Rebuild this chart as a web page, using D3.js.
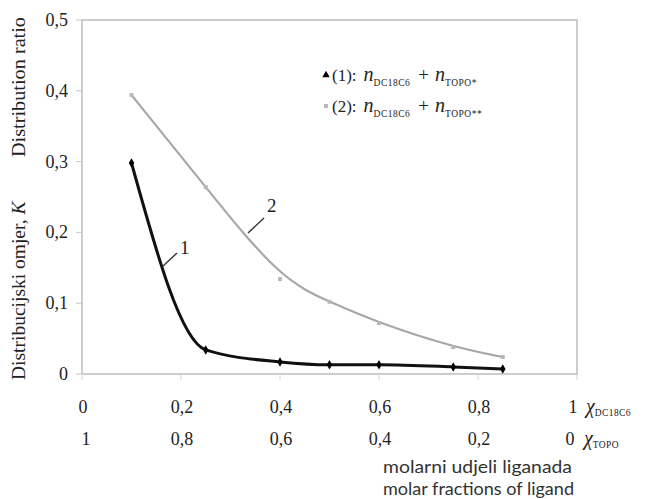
<!DOCTYPE html>
<html>
<head>
<meta charset="utf-8">
<script src="https://cdn.jsdelivr.net/npm/d3@7"></script>
<style>
  body { margin: 0; background: #fff; }
  svg text { font-family: "Liberation Serif", "DejaVu Serif", serif; fill: #222; }
</style>
</head>
<body>
<div id="chart"></div>
<script>
// data
var xDC = [0.1, 0.25, 0.4, 0.5, 0.6, 0.75, 0.85];        // molar fraction of DC18C6
var k1 = [0.298, 0.034, 0.017, 0.013, 0.013, 0.010, 0.007]; // series (1)
var k2 = [0.394, 0.264, 0.134, 0.102, 0.072, 0.038, 0.024]; // series (2)
var yTicks = [0, 0.1, 0.2, 0.3, 0.4, 0.5];
var xTicks = [0, 0.2, 0.4, 0.6, 0.8, 1];

var width = 645, height = 499;
var plotL = 82, plotR = 577, plotT = 20, plotB = 374;
var FS = 18; // tick label size

var svg = d3.select("#chart").append("svg")
  .attr("width", width)
  .attr("height", height);

var x = d3.scaleLinear().domain([0, 1]).range([plotL, plotR]);
var xTopo = d3.scaleLinear().domain([1, 0]).range([plotL, plotR]); // second row, reversed
var y = d3.scaleLinear().domain([0, 0.5]).range([plotB, plotT]);

var comma = d => d === 0 ? "0" : (d === 1 ? "1" : d3.format(".1f")(d).replace(".", ","));

// plot frame
svg.append("rect")
  .attr("x", plotL).attr("y", plotT)
  .attr("width", plotR - plotL).attr("height", plotB - plotT)
  .attr("fill", "none")
  .attr("stroke", "#bdbdbd")
  .attr("stroke-width", 1.5);

// y axis ticks + labels
svg.selectAll(".ytick").data(yTicks).enter().append("line")
  .attr("x1", plotL - 6).attr("x2", plotL)
  .attr("y1", d => y(d)).attr("y2", d => y(d))
  .attr("stroke", "#c8c8c8");

svg.selectAll(".ylab").data(yTicks).enter().append("text")
  .attr("x", 68)
  .attr("y", d => y(d) + 6)
  .attr("text-anchor", "end")
  .style("font-size", FS + "px")
  .text(comma);

// x axis ticks
svg.selectAll(".xtick").data(xTicks).enter().append("line")
  .attr("x1", d => x(d)).attr("x2", d => x(d))
  .attr("y1", plotB).attr("y2", plotB + 6)
  .attr("stroke", "#d4d4d4");

// first row: DC18C6
svg.selectAll(".xlab").data(xTicks).enter().append("text")
  .attr("x", d => x(d) + (d === 1 ? -4 : 1))
  .attr("y", 413)
  .attr("text-anchor", "middle")
  .style("font-size", FS + "px")
  .text(comma);

// second row: TOPO
svg.selectAll(".xlab2").data(xTicks).enter().append("text")
  .attr("x", d => xTopo(1 - d) + (d === 1 ? -7 : 1) + (d === 0 ? 3 : 0))
  .attr("y", 445)
  .attr("text-anchor", "middle")
  .style("font-size", FS + "px")
  .text(d => comma(1 - d));

function chi(xp, yp, sub) {
  var t = svg.append("text").attr("x", xp).attr("y", yp).style("font-size", "20px");
  t.append("tspan").style("font-style", "italic").text("χ");
  t.append("tspan").attr("dy", 3).style("font-size", "9.5px").style("letter-spacing", "0.4px").text(sub);
}
chi(586, 413, "DC18C6");
chi(584, 445, "TOPO");

// axis titles (y title in two parts)
var yt = svg.append("text")
  .attr("transform", "translate(25,380) rotate(-90)")
  .style("font-size", "19.5px");
yt.append("tspan").text("Distribucijski omjer, ");
yt.append("tspan").style("font-style", "italic").text("K");

svg.append("text")
  .attr("transform", "translate(25,157) rotate(-90)")
  .style("font-size", "19.5px")
  .attr("textLength", 140)
  .attr("lengthAdjust", "spacingAndGlyphs")
  .text("Distribution ratio");

svg.append("text")
  .attr("x", 383).attr("y", 473)
  .style("font-family", "Lato, 'Open Sans', sans-serif")
  .style("font-size", "17px")
  .style("fill", "#333")
  .attr("textLength", 189)
  .attr("lengthAdjust", "spacingAndGlyphs")
  .text("molarni udjeli liganada");

svg.append("text")
  .attr("x", 383).attr("y", 495)
  .style("font-family", "Lato, 'Open Sans', sans-serif")
  .style("font-size", "17px")
  .style("fill", "#333")
  .attr("textLength", 191)
  .attr("lengthAdjust", "spacingAndGlyphs")
  .text("molar fractions of ligand");

// series (2): grey smoothed trend
var pts2 = xDC.map((d, i) => [d, k2[i]]);
var pts1 = xDC.map((d, i) => [d, k1[i]]);

svg.append("path")
  .datum(pts2)
  .attr("fill", "none")
  .attr("stroke", "#a8a8a8")
  .attr("stroke-width", 2.2)
  .attr("d", d3.line().x(d => x(d[0])).y(d => y(d[1])).curve(d3.curveBasis));

svg.selectAll(".m2").data(pts2).enter().append("rect")
  .attr("x", d => x(d[0]) - 2).attr("y", d => y(d[1]) - 2)
  .attr("width", 4).attr("height", 4)
  .attr("fill", "#b8b8b8");

// series (1): black smoothed line
svg.append("path")
  .datum(pts1)
  .attr("fill", "none")
  .attr("stroke", "#111")
  .attr("stroke-width", 3)
  .attr("d", d3.line().x(d => x(d[0])).y(d => y(d[1])).curve(d3.curveMonotoneX));

svg.selectAll(".m1").data(pts1).enter().append("path")
  .attr("transform", d => "translate(" + x(d[0]) + "," + y(d[1]) + ")")
  .attr("d", d3.symbol().type(d3.symbolDiamond).size(26))
  .attr("fill", "#000");

// curve labels with leader lines
function tag(px, py, lx, ly, txt, tx, ty) {
  svg.append("line")
    .attr("x1", px).attr("y1", py).attr("x2", lx).attr("y2", ly)
    .attr("stroke", "#333").attr("stroke-width", 1.4);
  svg.append("text").attr("x", tx).attr("y", ty).style("font-size", "19px").text(txt);
}
tag(162, 267, 177, 253, "1", 180, 254);
tag(248, 233, 264, 218, "2", 267, 212);

// legend
var legend = [
  { mark: "tri", num: "(1):", sup: "*" },
  { mark: "sq", num: "(2):", sup: "**" }
];
legend.forEach(function(d, i) {
  var ly = 81 + i * 31;
  if (d.mark === "tri") {
    svg.append("path")
      .attr("transform", "translate(326," + (ly - 6) + ")")
      .attr("d", d3.symbol().type(d3.symbolTriangle).size(24))
      .attr("fill", "#000");
  } else {
    svg.append("rect").attr("x", 324).attr("y", ly - 8).attr("width", 4).attr("height", 4).attr("fill", "#b8b8b8");
  }
  var t = svg.append("text").attr("x", 332).attr("y", ly).style("font-size", "17px");
  t.append("tspan").text(d.num);
  t.append("tspan").attr("dx", 7).style("font-style", "italic").style("font-size", "20px").text("n");
  t.append("tspan").attr("dy", 5).style("font-size", "9.5px").style("letter-spacing", "0.5px").text("DC18C6");
  t.append("tspan").attr("dy", -5).attr("dx", 8).style("font-size", "19px").text("+");
  t.append("tspan").attr("dx", 6).style("font-style", "italic").style("font-size", "20px").text("n");
  t.append("tspan").attr("dy", 5).style("font-size", "9.5px").style("letter-spacing", "0.5px").text("TOPO" + d.sup);
});
</script>
</body>
</html>
